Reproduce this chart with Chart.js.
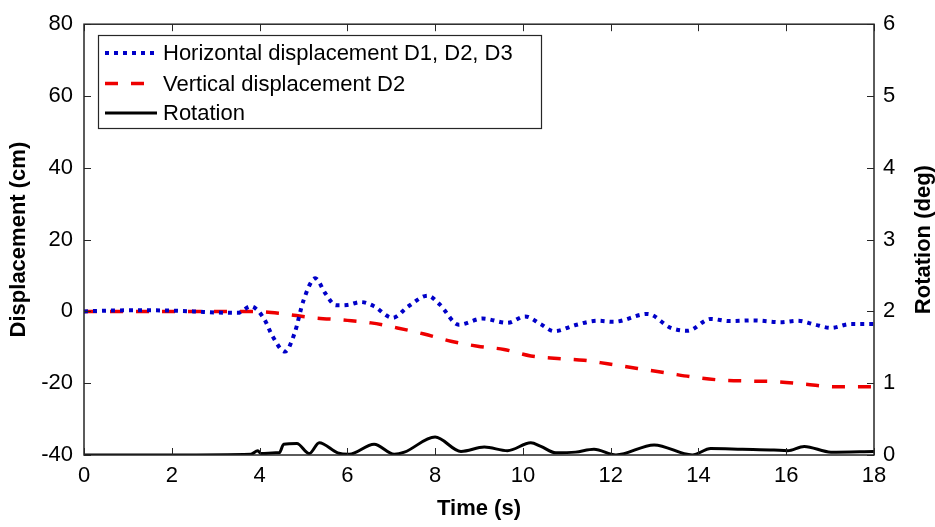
<!DOCTYPE html>
<html>
<head>
<meta charset="utf-8">
<script src="https://cdn.jsdelivr.net/npm/chart.js@4/dist/chart.umd.min.js"></script>
<style>
    html, body { margin: 0; padding: 0; background: #ffffff; }
    #divGrafico { width: 935px; height: 527px; position: relative; }
</style>
</head>
<body>
<div id="divGrafico"><canvas id="graficoDeslocamento"></canvas></div>
<script>

// horizontal displacement D1, D2, D3 (cm)
var tempoHorizontal = [0, 0.5, 1, 1.5, 2, 2.5, 3, 3.5, 3.8, 4.1, 4.3, 4.58, 4.8, 5.0, 5.27, 5.5, 5.74, 6.0, 6.31, 6.6, 7.03, 7.4, 7.83, 8.1, 8.54, 9.08, 9.65, 10.05, 10.4, 10.71, 11.2, 11.7, 12.07, 12.84, 13.37, 13.75, 14.28, 14.7, 15.26, 15.87, 16.26, 16.63, 17.02, 17.47, 18];
var deslocHorizontal = [0, 0.2, 0.3, 0.3, 0.2, 0, -0.3, -0.4, 1.4, -2, -7, -11.2, -6, 3, 9.2, 5, 1.7, 1.8, 2.6, 1.5, -1.8, 1.5, 4.4, 2, -3.7, -2.0, -3.2, -1.4, -3.5, -5.5, -3.8, -2.6, -2.9, -0.7, -4.6, -5.4, -2.1, -2.7, -2.5, -3.0, -2.6, -3.6, -4.6, -3.5, -3.5];

// vertical displacement D2 (cm)
var tempoVertical = [0, 1, 2, 3, 3.8, 4.49, 5.17, 6, 6.54, 7.14, 7.75, 8.36, 8.97, 9.57, 10.18, 10.79, 11.39, 11.93, 12.61, 13.3, 13.94, 14.59, 15.19, 15.8, 16.45, 17.09, 17.85, 18];
var deslocVertical = [0, 0, 0, 0, 0, -0.6, -1.7, -2.5, -3.2, -4.6, -6.3, -8.3, -9.7, -10.6, -12.4, -13.1, -13.6, -14.6, -15.9, -17.2, -18.4, -19.2, -19.4, -19.6, -20.3, -21.0, -21.0, -21.0];

// rotation (deg)
var tempoRotacao = [0, 2, 3.8, 3.96, 4.03, 4.37, 4.45, 4.55, 4.85, 5.13, 5.36, 5.78, 6.04, 6.61, 7.07, 7.3, 8.0, 8.59, 9.12, 9.65, 10.18, 10.41, 10.75, 11.2, 11.62, 12.12, 12.99, 13.86, 14.28, 15.0, 15.72, 16.03, 16.41, 17.02, 18];
var rotacao = [0, 0, 0.01, 0.06, 0.02, 0.03, 0.03, 0.15, 0.16, 0.02, 0.17, 0.03, 0.01, 0.15, 0.01, 0.04, 0.25, 0.05, 0.11, 0.06, 0.17, 0.12, 0.03, 0.04, 0.08, 0.0, 0.14, 0.0, 0.09, 0.08, 0.07, 0.06, 0.12, 0.04, 0.05];

var ticksTempo = [0, 2, 4, 6, 8, 10, 12, 14, 16, 18];
var ticksDeslocamento = [-40, -20, 0, 20, 40, 60, 80];
var ticksRotacao = [0, 1, 2, 3, 4, 5, 6];

var legendas = ["Horizontal displacement D1, D2, D3", "Vertical displacement D2", "Rotation"];
var tituloRotacao = "Rotation (deg)";

var corEixo = "#262626";
var familia = "'Liberation Sans', Arial, sans-serif";
var fonteTick = "22px " + familia;

function montarPontos(tempos, valores) {
    var pontos = new Array();
    for (var i = 0; i < tempos.length; i++) {
        pontos.push({ x: tempos[i], y: valores[i] });
    }
    return pontos;
}

// box, inward ticks, right title and legend drawn like the MATLAB figure
var pluginMoldura = {
    id: "moldura",
    afterDatasetsDraw: function (chart) {
        var ctx = chart.ctx;
        var area = chart.chartArea;
        var x = chart.scales.x, y = chart.scales.y, y1 = chart.scales.y1;
        var tam = 7;
        ctx.save();
        ctx.strokeStyle = corEixo;
        ctx.lineWidth = 1.5;
        ctx.setLineDash([]);
        ctx.strokeRect(area.left, area.top, area.right - area.left, area.bottom - area.top);
        ctx.lineWidth = 1;
        ctx.beginPath();
        for (var i = 0; i < ticksTempo.length; i++) {
            var px = Math.round(x.getPixelForValue(ticksTempo[i])) + 0.5;
            ctx.moveTo(px, area.bottom); ctx.lineTo(px, area.bottom - tam);
            ctx.moveTo(px, area.top); ctx.lineTo(px, area.top + tam);
        }
        for (var i = 0; i < ticksDeslocamento.length; i++) {
            var py = Math.round(y.getPixelForValue(ticksDeslocamento[i])) + 0.5;
            ctx.moveTo(area.left, py); ctx.lineTo(area.left + tam, py);
        }
        for (var i = 0; i < ticksRotacao.length; i++) {
            var py = Math.round(y1.getPixelForValue(ticksRotacao[i])) + 0.5;
            ctx.moveTo(area.right, py); ctx.lineTo(area.right - tam, py);
        }
        ctx.stroke();

        // right axis title, reading bottom to top
        ctx.save();
        ctx.translate(924, (area.top + area.bottom) / 2);
        ctx.rotate(-Math.PI / 2);
        ctx.font = "bold 22px " + familia;
        ctx.fillStyle = "#000000";
        ctx.textAlign = "center";
        ctx.textBaseline = "middle";
        ctx.fillText(tituloRotacao, 0, 0);
        ctx.restore();

        // legend
        var bx = 98, by = 35, bw = 443, bh = 93;
        ctx.fillStyle = "#ffffff";
        ctx.fillRect(bx, by, bw, bh);
        ctx.strokeStyle = corEixo;
        ctx.lineWidth = 1.2;
        ctx.strokeRect(bx + 0.5, by + 0.5, bw, bh);
        var linhas = [53, 83.5, 113];
        ctx.font = fonteTick;
        ctx.textBaseline = "middle";
        ctx.textAlign = "left";
        for (var i = 0; i < chart.data.datasets.length; i++) {
            var ds = chart.data.datasets[i];
            ctx.strokeStyle = ds.borderColor;
            ctx.lineWidth = ds.borderWidth;
            ctx.setLineDash(ds.borderDash || []);
            ctx.beginPath();
            ctx.moveTo(105, linhas[i]);
            ctx.lineTo(157, linhas[i]);
            ctx.stroke();
            ctx.fillStyle = "#000000";
            ctx.fillText(legendas[i], 163, linhas[i] + 1);
        }
        ctx.restore();
    }
};

function gerarGrafico() {
    var fonte = { family: familia, size: 22 };
    var fonteTitulo = { family: familia, size: 22, weight: "bold" };

    var options = {
        responsive: true,
        maintainAspectRatio: false,
        animation: false,
        layout: { padding: { top: 21, left: 0, right: 0, bottom: 0 } },
        plugins: { legend: { display: false }, tooltip: { enabled: false } },
        elements: { point: { radius: 0 } },
        scales: {
            x: {
                type: "linear",
                min: 0,
                max: 18,
                border: { display: false },
                grid: { display: false, drawTicks: false },
                ticks: { stepSize: 2, color: "#000000", font: fonte, padding: 8, maxRotation: 0 },
                title: { display: true, text: "Time (s)", color: "#000000", font: fonteTitulo, padding: { top: 0, bottom: 5 } },
                afterFit: function (scale) { scale.height = 72; }
            },
            y: {
                type: "linear",
                position: "left",
                min: -40,
                max: 80,
                border: { display: false },
                grid: { display: false, drawTicks: false },
                ticks: { stepSize: 20, color: "#000000", font: fonte, padding: 11 },
                title: { display: true, text: "Displacement (cm)", color: "#000000", font: fonteTitulo, padding: { top: 6, bottom: 0 } },
                afterFit: function (scale) { scale.width = 84; }
            },
            y1: {
                type: "linear",
                position: "right",
                min: 0,
                max: 6,
                border: { display: false },
                grid: { display: false, drawTicks: false },
                ticks: { stepSize: 1, color: "#000000", font: fonte, padding: 9 },
                title: { display: false },
                afterFit: function (scale) { scale.width = 61; }
            }
        }
    };

    var data = {
        datasets: [
            {
                label: legendas[0],
                data: montarPontos(tempoHorizontal, deslocHorizontal),
                yAxisID: "y",
                borderColor: "#0000C8",
                borderWidth: 4,
                borderDash: [4, 5],
                cubicInterpolationMode: "monotone",
                fill: false
            },
            {
                label: legendas[1],
                data: montarPontos(tempoVertical, deslocVertical),
                yAxisID: "y",
                borderColor: "#EE0000",
                borderWidth: 3.5,
                borderDash: [13, 13],
                cubicInterpolationMode: "monotone",
                fill: false
            },
            {
                label: legendas[2],
                data: montarPontos(tempoRotacao, rotacao),
                yAxisID: "y1",
                borderColor: "#000000",
                borderWidth: 3,
                cubicInterpolationMode: "monotone",
                fill: false
            }
        ]
    };

    return new Chart(document.getElementById("graficoDeslocamento"), {
        type: "line",
        data: data,
        options: options,
        plugins: [pluginMoldura]
    });
}

var _graficoDeslocamento = gerarGrafico();
</script>
</body>
</html>
